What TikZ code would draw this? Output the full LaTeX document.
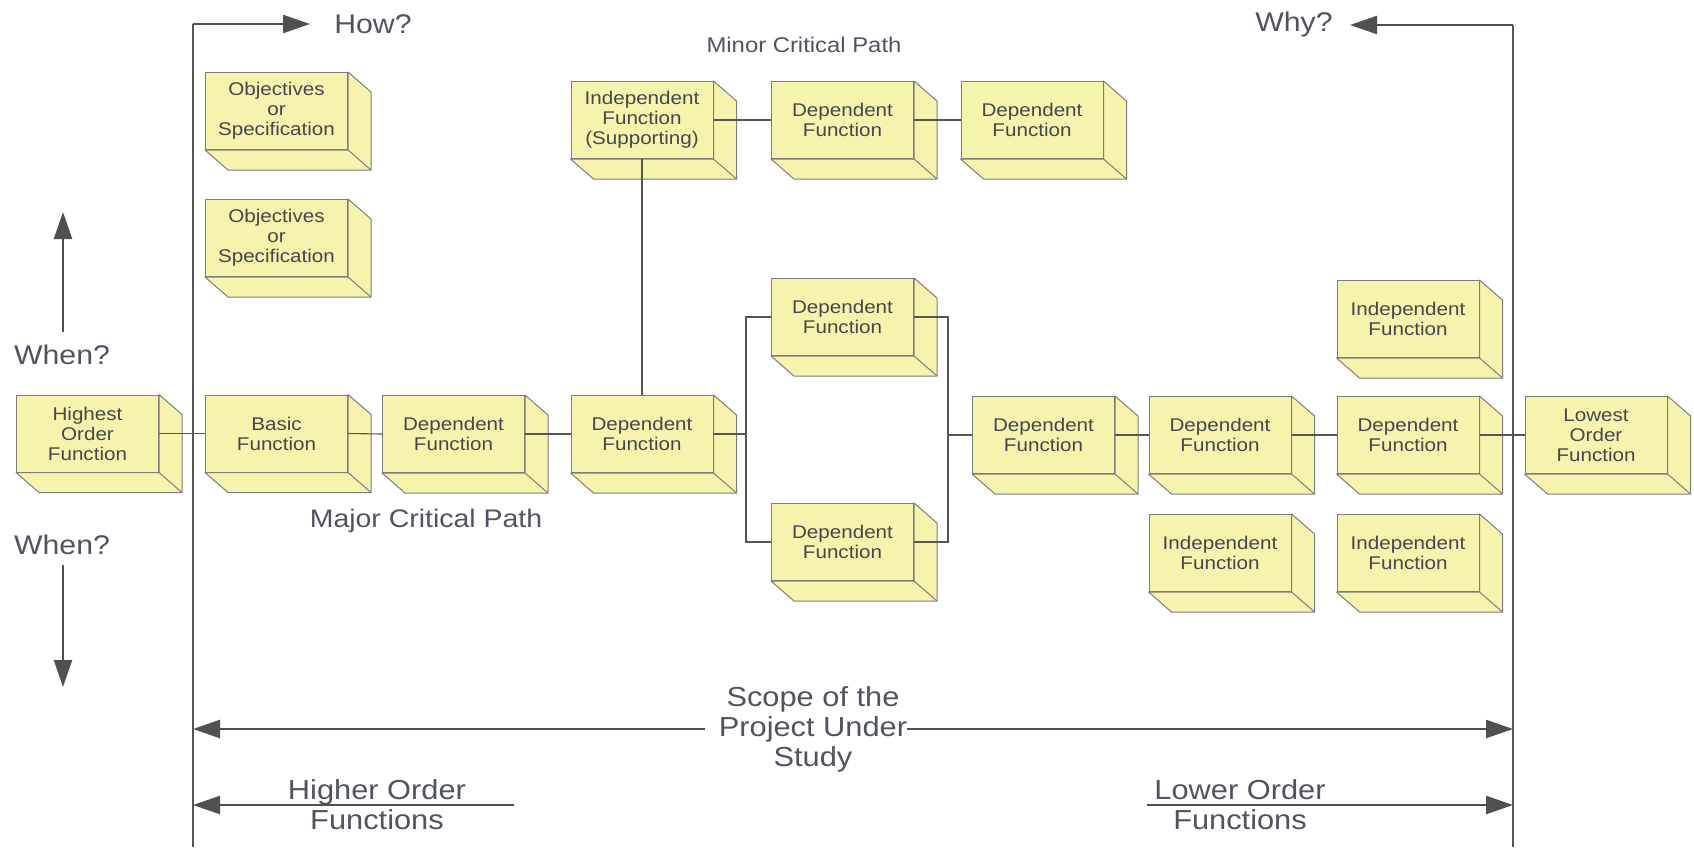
\documentclass[tikz,border=0pt]{standalone}
\usepackage{fontspec}
\setmainfont{Liberation Sans}[FakeStretch=1.12]
\usetikzlibrary{arrows.meta,calc}
\definecolor{boxfill}{RGB}{246,244,172}
\definecolor{boxedge}{RGB}{125,125,125}
\definecolor{linecol}{RGB}{85,85,85}
\definecolor{arrowcol}{RGB}{80,80,80}
\definecolor{labelcol}{RGB}{80,84,98}
\definecolor{boxtext}{RGB}{70,70,78}
\newcommand{\cubeback}[1]{%
  \filldraw[boxside] (#1.north east) -- ++(23,20) -- ($(#1.south east)+(23,20)$) -- ($(#1.south west)+(23,20)$) -- (#1.south west) -- (#1.south east) -- cycle;
  \draw[boxside] (#1.south east) -- ++(23,20);
}
\begin{document}
\begin{tikzpicture}[x=1pt,y=-1pt,
  cubebox/.style={draw=boxedge, fill=boxfill, line width=1pt, minimum width=142pt, minimum height=77pt, inner sep=0pt, align=center, text=boxtext, font=\fontsize{18.4}{20}\selectfont},
  boxside/.style={draw=boxedge, fill=boxfill, line width=1pt, line join=round},
  conn/.style={draw=linecol, line width=1.1pt},
  frameline/.style={draw=linecol, line width=1.1pt},
  bigarrow/.style={draw=arrowcol, line width=2.4pt, -{Triangle[length=27pt,width=18pt]}},
  lbl/.style={text=labelcol, font=\fontsize{27}{30}\selectfont, inner sep=0pt, align=center}]
\fill[white] (0,0) rectangle (1694,847);
\useasboundingbox (0,0) rectangle (1694,847);

% boxes
\node[cubebox] (obj1) at (276.5,111) {Objectives\\or\\Specification};
\node[cubebox] (obj2) at (276.5,238) {Objectives\\or\\Specification};
\node[cubebox] (high) at (87.5,433.5) {Highest\\Order\\Function};
\node[cubebox] (basic) at (276.5,433.5) {Basic\\Function};
\node[cubebox] (dep2) at (453.5,434) {Dependent\\Function};
\node[cubebox] (dep3) at (642,434) {Dependent\\Function};
\node[cubebox] (sup) at (642,120) {Independent\\Function\\(Supporting)};
\node[cubebox] (tdep1) at (842.5,120) {Dependent\\Function};
\node[cubebox] (tdep2) at (1032,120) {Dependent\\Function};
\node[cubebox] (pup) at (842.5,317) {Dependent\\Function};
\node[cubebox] (plow) at (842.5,542) {Dependent\\Function};
\node[cubebox] (dep4) at (1043.5,435) {Dependent\\Function};
\node[cubebox] (dep5) at (1220,435) {Dependent\\Function};
\node[cubebox] (dep6) at (1408,435) {Dependent\\Function};
\node[cubebox] (lowest) at (1596,435) {Lowest\\Order\\Function};
\node[cubebox] (ind1) at (1408,319) {Independent\\Function};
\node[cubebox] (ind2) at (1220,553) {Independent\\Function};
\node[cubebox] (ind3) at (1408,553) {Independent\\Function};

\foreach \n in {obj1,obj2,high,basic,dep2,dep3,sup,tdep1,tdep2,pup,plow,dep4,dep5,dep6,lowest,ind1,ind2,ind3}{\cubeback{\n}}

% connectors
\coordinate (bL) at (746,434);
\coordinate (bR) at (948,435);
\draw[conn] (high.east) -- (basic.west);
\draw[conn] (basic.east) -- (dep2.west);
\draw[conn] (dep2.east) -- (dep3.west);
\draw[conn] (sup.south) -- (dep3.north);
\draw[conn] (sup.east) -- (tdep1.west);
\draw[conn] (tdep1.east) -- (tdep2.west);
\draw[conn] (dep3.east) -- (bL);
\draw[conn] (pup.west) -| (bL);
\draw[conn] (plow.west) -| (bL);
\draw[conn] (pup.east) -| (bR);
\draw[conn] (plow.east) -| (bR);
\draw[conn] (bR) -- (dep4.west);
\draw[conn] (dep4.east) -- (dep5.west);
\draw[conn] (dep5.east) -- (dep6.west);
\draw[conn] (dep6.east) -- (lowest.west);

% frame lines
\coordinate (tl) at (193,24);
\coordinate (bl) at (193,847);
\coordinate (tr) at (1513,25);
\coordinate (br) at (1513,847);
\coordinate (howtip) at (310,24);
\coordinate (whytip) at (1350,25);
\draw[frameline] (bl) -- (tl);
\draw[frameline] (br) -- (tr);
\draw[bigarrow] (tl) -- (howtip);
\draw[bigarrow] (tr) -- (whytip);

% labels
\node[lbl] (how) at (373,24) {How?};
\node[lbl] (why) at (1294,25) {Why?};
\node[lbl] (when1) at (62,355) {When?};
\node[lbl] (when2) at (62,545) {When?};
\node[lbl, font=\fontsize{21.3}{24}\selectfont] (minor) at (804,45) {Minor Critical Path};
\node[lbl, font=\fontsize{25.4}{28}\selectfont] (major) at (426,521) {Major Critical Path};
\node[lbl, font=\fontsize{27.5}{30}\selectfont] (scope) at (813,729) {Scope of the\\Project Under\\Study};
\node[lbl, font=\fontsize{27.5}{30}\selectfont] (higher) at (377,805) {Higher Order\\Functions};
\node[lbl, font=\fontsize{27.5}{30}\selectfont] (lower) at (1240,805) {Lower Order\\Functions};

% when arrows
\coordinate (up1) at (63,332);
\coordinate (up2) at (63,212);
\coordinate (dn1) at (63,565);
\coordinate (dn2) at (63,687);
\draw[bigarrow] (up1) -- (up2);
\draw[bigarrow] (dn1) -- (dn2);

% scope arrows
\draw[bigarrow] ($(scope.west)+(-14,0)$) -- (scope.west -| tl);
\draw[bigarrow] (scope.east) -- (scope.east -| tr);

% order arrows
\coordinate (hs) at (514,805);
\coordinate (ls) at (1147,805);
\draw[bigarrow] (hs) -- (hs -| tl);
\draw[bigarrow] (ls) -- (ls -| tr);
\end{tikzpicture}
\end{document}
